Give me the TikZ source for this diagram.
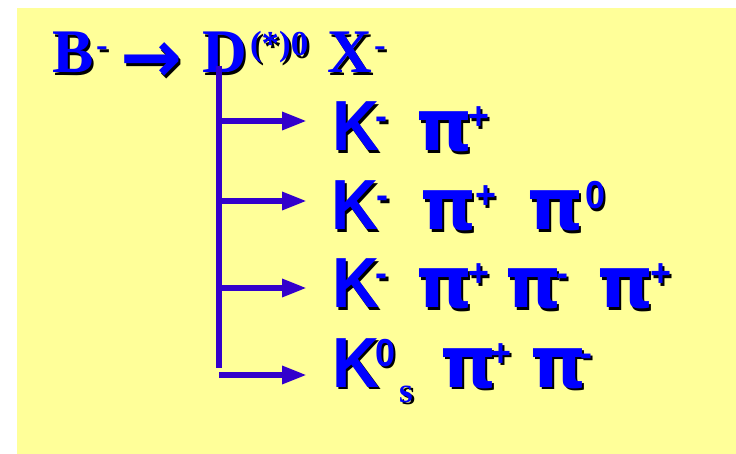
\documentclass[tikz,border=0pt]{standalone}
\usepackage{fontspec}
\usetikzlibrary{arrows.meta}
\newfontfamily\tsf[FakeStretch=0.92]{Liberation Sans}
\newfontfamily\tsr{Liberation Serif}
\newfontfamily\tdj{DejaVu Sans}
\definecolor{bg}{HTML}{FFFF99}
\definecolor{txt}{HTML}{0000FF}
\definecolor{arr}{HTML}{3300CC}
\newcommand\Kf{\tsf\bfseries\fontsize{71}{71}\selectfont}
\newcommand\Sf{\tsf\bfseries\fontsize{39}{39}\selectfont}
\newcommand\Pf{\tdj\bfseries\fontsize{71}{71}\selectfont}
\newcommand\Tf{\tsr\bfseries\fontsize{62}{62}\selectfont}
\newcommand\Tsf{\tsr\bfseries\fontsize{35}{35}\selectfont}
\newcommand\Af{\tdj\bfseries\fontsize{74}{74}\selectfont}
\newcommand\shtxt[4]{%
  \node[lbl, text=black] (#1s) at (#2+2.5,#3+2.5) {#4};
  \node[lbl] (#1) at (#2,#3) {#4};}
\begin{document}
\begin{tikzpicture}[x=1pt,y=-1pt,
  lbl/.style={anchor=base west, inner sep=0pt, outer sep=0pt, text=txt},
  vline/.style={draw=arr, line width=6pt},
  branch/.style={draw=arr, line width=6pt, -{Triangle[length=25pt,width=17pt]}}]
\useasboundingbox (0,0) rectangle (736,454);
\fill[white] (0,0) rectangle (736,454);
\fill[bg] (17,8) rectangle (736,454);
% title
\shtxt{tB}{52}{73}{\Tf B}
\shtxt{tBm}{96}{57}{\Tsf -}
\shtxt{tar}{120}{83}{\Af →}
\shtxt{tD}{202}{73}{\Tf D}
\shtxt{tDs}{250}{56}{\Tsf (*)0}
\shtxt{tX}{327}{73}{\Tf X}
\shtxt{tXm}{374}{57}{\Tsf -}
% tree
\coordinate (v1) at (219,66);
\coordinate (v2) at (219,368);
\coordinate (b1) at (219,121);
\coordinate (b2) at (219,201);
\coordinate (b3) at (219,288);
\coordinate (b4) at (219,375);
\coordinate (t1) at (307,121);
\coordinate (t2) at (307,201);
\coordinate (t3) at (307,288);
\coordinate (t4) at (307,375);
\draw[vline] (v1) -- (v2);
\draw[branch] (b1) -- (t1);
\draw[branch] (b2) -- (t2);
\draw[branch] (b3) -- (t3);
\draw[branch] (b4) -- (t4);
% line 1
\shtxt{aK}{332}{151}{\Kf K}
\shtxt{aKm}{375.5}{130}{\Sf -}
\shtxt{aP}{416}{151}{\Pf π}
\shtxt{aPp}{468}{130}{\Sf +}
% line 2
\shtxt{bK}{331}{230}{\Kf K}
\shtxt{bKm}{376.5}{209}{\Sf -}
\shtxt{bP}{420}{230}{\Pf π}
\shtxt{bPp}{475}{209}{\Sf +}
\shtxt{bQ}{527}{230}{\Pf π}
\shtxt{bQz}{585}{209}{\Sf 0}
% line 3
\shtxt{cK}{332}{308}{\Kf K}
\shtxt{cKm}{375.5}{287}{\Sf -}
\shtxt{cP}{416}{308}{\Pf π}
\shtxt{cPp}{468}{287}{\Sf +}
\shtxt{cQ}{505}{308}{\Pf π}
\shtxt{cQm}{556}{287}{\Sf -}
\shtxt{cR}{597}{308}{\Pf π}
\shtxt{cRp}{650}{287}{\Sf +}
% line 4
\shtxt{dK}{332}{387}{\Kf K}
\shtxt{dKz}{375}{366}{\Sf 0}
\shtxt{dKs}{399}{402}{\Tsf s}
\shtxt{dP}{440}{387}{\Pf π}
\shtxt{dPp}{490}{366}{\Sf +}
\shtxt{dQ}{530}{387}{\Pf π}
\shtxt{dQm}{580}{366}{\Sf -}
\end{tikzpicture}
\end{document}
